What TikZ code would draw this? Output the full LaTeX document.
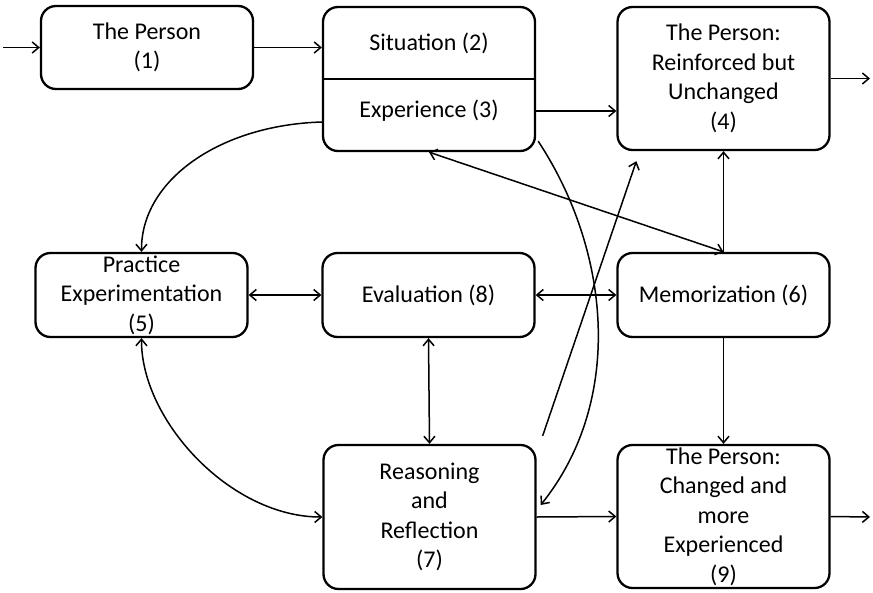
\documentclass[tikz,border=0pt]{standalone}
\usepackage{fontspec}
\setmainfont{Carlito}
\usetikzlibrary{arrows.meta}
\begin{document}
\begin{tikzpicture}[x=1pt,y=-1pt,
  box/.style={draw, line width=2.3pt, rounded corners=15pt, minimum width=212pt, align=center, inner sep=0pt, font=\fontsize{24}{29.5}\selectfont},
  txt/.style={inner sep=0pt, font=\fontsize{24}{29.5}\selectfont},
  tip/.tip={Straight Barb[length=6.5pt,width=11pt]},
  conn/.style={line width=1.5pt, -tip},
  dconn/.style={line width=1.5pt, tip-tip},
]
\useasboundingbox (0,0) rectangle (873,592);
% boxes
\node[box, minimum height=83pt] (b1) at (147,47.5) {The Person\\(1)};
\node[box, minimum height=144pt] (b23) at (429,79) {};
\draw[line width=2.3pt] (b23.west) -- (b23.east);
\node[txt] (sit) at (429,43) {Situation (2)};
\node[txt] (exp) at (429,111) {Experience (3)};
\node[box, minimum height=143pt] (b4) at (723.5,78.5) {The Person:\\Reinforced but\\Unchanged\\(4)};
\node[box, minimum height=84pt] (b5) at (141.5,295) {Practice\\Experimentation\\(5)};
\node[box, minimum height=84pt] (b8) at (428.5,295) {Evaluation (8)};
\node[box, minimum height=84pt] (b6) at (723.5,295) {Memorization (6)};
\node[box, minimum height=144pt] (b7) at (429.5,517) {Reasoning\\and\\Reflection\\(7)};
\node[box, minimum height=143pt] (b9) at (723.5,516.5) {The Person:\\Changed and\\more\\Experienced\\(9)};
% free ends
\coordinate (in1) at (3,47.5);
\coordinate (out4) at (870,78.5);
\coordinate (out9) at (870,517);
% connectors
\draw[conn] (in1) -- (b1.west);
\draw[conn] (b1.east) -- (b23.west |- b1.east);
\draw[conn] (b23.east |- exp) -- (b4.west |- exp);
\draw[conn] (b4.east) -- (out4);
\draw[conn] (b6.north) -- (b4.south);
\draw[dconn] (b6.north) -- (b23.south);
\draw[conn] ([yshift=-43pt]b23.west) .. controls (220,125) and (141,180) .. (b5.north);
\draw[dconn] (b5.east) -- (b8.west);
\draw[dconn] (b8.east) -- (b6.west);
\draw[dconn] (b8.south) -- (b7.north);
\draw[dconn] (b5.south) .. controls (141,420) and (230,517) .. (b7.west);
\draw[conn] (b6.south) -- (b9.north);
\draw[conn] (b7.east) -- (b9.west);
\draw[conn] (b9.east) -- (out9);
\draw[conn] ([xshift=2pt,yshift=11pt]b23.south east) .. controls (610,250) and (625,400) .. ([xshift=4pt,yshift=12pt]b7.east);
\draw[conn] ([xshift=6pt,yshift=8pt]b7.north east) -- ([xshift=20pt,yshift=-10pt]b4.south west);
\end{tikzpicture}
\end{document}
